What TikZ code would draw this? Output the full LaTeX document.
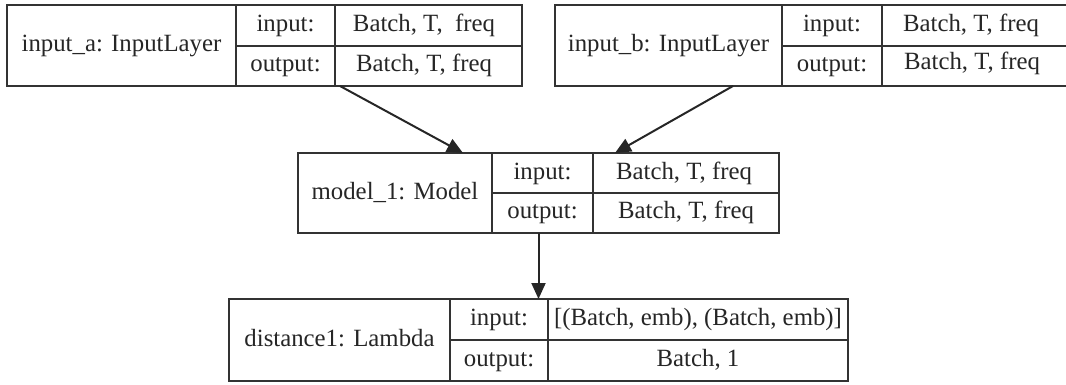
\documentclass[tikz,border=0pt]{standalone}
\usepackage{fontspec}
\setmainfont{Liberation Serif}
\usetikzlibrary{arrows.meta,calc}

\tikzset{
  layerbox/.style={draw=black!80, line width=1.2pt, inner sep=0pt, outer sep=0pt, fill=white},
  rule/.style={draw=black!80, line width=1.2pt},
  celltext/.style={inner sep=0pt, text=black!85, text height=8.6pt, text depth=2.6pt,
    font=\fontsize{12.4}{14}\selectfont},
  flow/.style={draw=black!85, line width=1pt,
    -{Triangle[length=8pt,width=7pt]}},
}

\begin{document}
\begin{tikzpicture}[x=0.5pt,y=-0.5pt]
  \useasboundingbox (0,0) rectangle (1066,385);
  \clip (0,0) rectangle (1066,385);

  % --- input_a ---
  \node[layerbox, minimum width=257.5pt, minimum height=40.5pt] (A) at (264.5,45.5) {};
  \draw[rule] (236,5) -- (236,86) (335,5) -- (335,86) (236,46) -- (522,46);
  \node[celltext] (a-title)  at (121.5,45.5) {input\_a: InputLayer};
  \node[celltext] (a-inkey)  at (285.5,25.5) {input:};
  \node[celltext] (a-outkey) at (285.5,66)   {output:};
  \node[celltext] (a-inval)  at (424,25.5)   {Batch, T,~~freq};
  \node[celltext] (a-outval) at (424,66)     {Batch, T, freq};

  % --- input_b (runs off the right edge) ---
  \node[layerbox, minimum width=256.5pt, minimum height=40.5pt] (B) at (811.5,45.5) {};
  \draw[rule] (782,5) -- (782,86) (882,5) -- (882,86) (782,46) -- (1068,46);
  \node[celltext] (b-title)  at (668.5,45.5) {input\_b: InputLayer};
  \node[celltext] (b-inkey)  at (832,25.5)   {input:};
  \node[celltext] (b-outkey) at (832,66)     {output:};
  \node[celltext] (b-inval)  at (971,25.5)   {Batch, T, freq};
  \node[celltext] (b-outval) at (972,64)     {Batch, T, freq};

  % --- model_1 ---
  \node[layerbox, minimum width=240.5pt, minimum height=40pt] (M) at (538.5,193) {};
  \draw[rule] (492,153) -- (492,233) (593,153) -- (593,233) (492,193) -- (779,193);
  \node[celltext] (m-title)  at (395,193)   {model\_1: Model};
  \node[celltext] (m-inkey)  at (542.5,173) {input:};
  \node[celltext] (m-outkey) at (542.5,213) {output:};
  \node[celltext] (m-inval)  at (684,173)   {Batch, T, freq};
  \node[celltext] (m-outval) at (686,213)   {Batch, T, freq};

  % --- distance1 ---
  \node[layerbox, minimum width=309.5pt, minimum height=41pt] (D) at (538.5,340) {};
  \draw[rule] (450,299) -- (450,381) (548,299) -- (548,381) (450,340) -- (848,340);
  \node[celltext] (d-title)  at (339.5,340) {distance1: Lambda};
  \node[celltext] (d-inkey)  at (499,319.5) {input:};
  \node[celltext] (d-outkey) at (499,360.5) {output:};
  \node[celltext] (d-inval)  at (698,319.5) {[(Batch, emb), (Batch, emb)]};
  \node[celltext] (d-outval) at (698,360.5) {Batch, 1};

  % --- connections ---
  \draw[flow] ([xshift=166.5pt]A.south west) -- ([xshift=82.5pt]M.north west);
  \draw[flow] ([xshift=89pt]B.south west) -- ([xshift=158.5pt]M.north west);
  \draw[flow] (M.south) -- (D.north);
\end{tikzpicture}
\end{document}
